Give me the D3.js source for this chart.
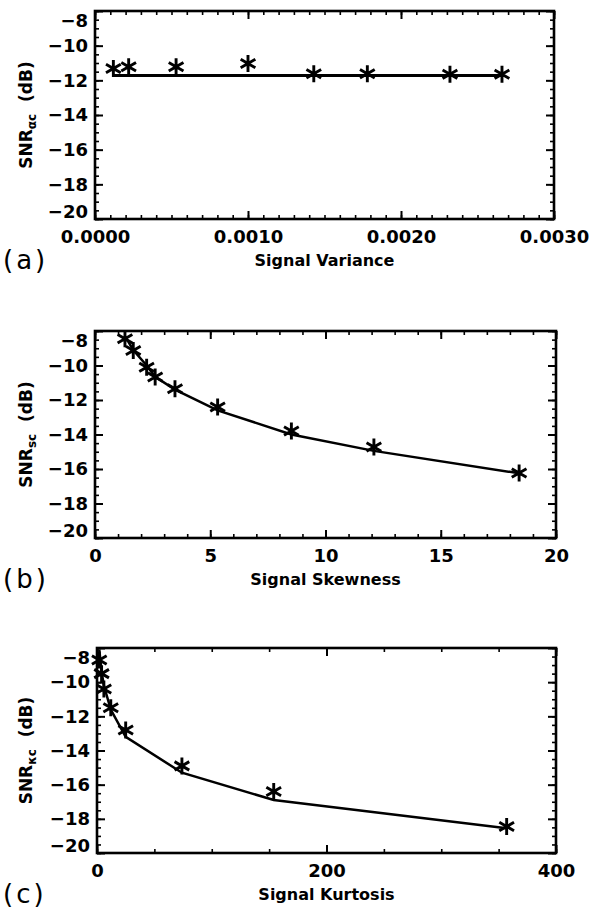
<!DOCTYPE html>
<html>
<head>
<meta charset="utf-8">
<script src="https://cdn.jsdelivr.net/npm/d3@7"></script>
<style>
    body { margin: 0; background: #fff; }
    svg { display: block; }
    text { font-family: "DejaVu Sans", sans-serif; fill: #000; }
</style>
</head>
<body>
<div id="chart-container"></div>
<script>
// values
var yTicks = [-8, -10, -12, -14, -16, -18, -20];

var varX   = [0.00012, 0.00022, 0.00053, 0.00100, 0.00143, 0.00178, 0.00232, 0.00266];
var varSNR = [-11.32, -11.22, -11.22, -11.03, -11.62, -11.62, -11.65, -11.65];
var varFit = [-11.72, -11.72, -11.72, -11.72, -11.72, -11.72, -11.72, -11.72];
var varTicks = [0, 0.001, 0.002, 0.003];
var varLabels = ["0.0000", "0.0010", "0.0020", "0.0030"];

var skewX   = [1.30, 1.66, 2.24, 2.61, 3.47, 5.32, 8.52, 12.1, 18.4];
var skewSNR = [-8.45, -9.13, -10.10, -10.67, -11.35, -12.41, -13.80, -14.73, -16.23];
var skewFit = [-8.3, -9.1, -10.0, -10.65, -11.4, -12.6, -14.0, -14.95, -16.25];
var skewTicks = [0, 5, 10, 15, 20];
var skewLabels = ["0", "5", "10", "15", "20"];

var kurtX   = [2, 4, 6, 12, 25, 74, 154, 357];
var kurtSNR = [-8.7, -9.5, -10.4, -11.5, -12.8, -14.9, -16.4, -18.45];
var kurtFit = [-8.1, -9.4, -10.2, -11.6, -13.2, -15.3, -16.9, -18.55];
var kurtTicks = [0, 200, 400];
var kurtLabels = ["0", "200", "400"];

var W = 594, H = 911;

var svg = d3.select("#chart-container")
    .append("svg")
    .attr("width", W)
    .attr("height", H);

function asterisk(g, x, y) {
    var r = 8.5;
    var path = d3.path();
    for (var k = 0; k < 3; k++) {
        var a = Math.PI / 2 + k * Math.PI / 3;
        path.moveTo(x - r * Math.cos(a), y - r * Math.sin(a));
        path.lineTo(x + r * Math.cos(a), y + r * Math.sin(a));
    }
    g.append("path")
        .attr("d", path.toString())
        .attr("stroke", "#000")
        .attr("stroke-width", 2.9)
        .attr("fill", "none");
}

function panel(p) {
    var x = d3.scaleLinear().domain(p.xDomain).range([p.l, p.r]);
    var y = d3.scaleLinear().domain([-8, -20]).range([p.t, p.b]);
    var g = svg.append("g");

    var xMinor = d3.range(p.xDomain[0], p.xDomain[1] + p.xStep / 2, p.xStep);
    var yMinor = d3.range(-8, -20.25, -0.5);

    // minor ticks on all four sides, pointing inward
    function minor(axis, scale, vals, pos) {
        g.append("g")
            .attr("transform", pos)
            .call(axis(scale).tickValues(vals).tickSizeInner(-4).tickSizeOuter(0).tickFormat(""))
            .call(s => s.select(".domain").remove())
            .selectAll("line").attr("stroke-width", 1.6);
    }
    minor(d3.axisBottom, x, xMinor, `translate(0,${p.b})`);
    minor(d3.axisTop, x, xMinor, `translate(0,${p.t})`);
    minor(d3.axisLeft, y, yMinor, `translate(${p.l},0)`);
    minor(d3.axisRight, y, yMinor, `translate(${p.r},0)`);

    // major ticks + labels
    g.append("g")
        .attr("transform", `translate(0,${p.b})`)
        .call(d3.axisBottom(x).tickValues(p.xTicks).tickSizeInner(-8).tickSizeOuter(0)
            .tickPadding(11).tickFormat((d, i) => p.xLabels[i]));
    g.append("g")
        .attr("transform", `translate(0,${p.t})`)
        .call(d3.axisTop(x).tickValues(p.xTicks).tickSizeInner(-8).tickSizeOuter(0).tickFormat(""));
    var yl = g.append("g")
        .attr("transform", `translate(${p.l},0)`)
        .call(d3.axisLeft(y).tickValues(yTicks).tickSizeInner(-8).tickSizeOuter(0)
            .tickPadding(7).tickFormat(d => "\u2212" + Math.abs(d)));
    g.append("g")
        .attr("transform", `translate(${p.r},0)`)
        .call(d3.axisRight(y).tickValues(yTicks).tickSizeInner(-8).tickSizeOuter(0).tickFormat(""));

    g.selectAll(".domain").remove();
    g.selectAll(".tick line").attr("stroke", "#000");
    g.selectAll(".tick line").filter(function() { return d3.select(this).attr("stroke-width") == null; })
        .attr("stroke-width", 2);
    g.selectAll(".tick text")
        .style("font-family", "DejaVu Sans")
        .style("font-weight", "bold")
        .style("font-size", "18px")
        .attr("fill", "#000");

    // end labels are pulled inside the frame
    yl.selectAll(".tick text").filter(d => d === -8).attr("dy", "0.88em");
    yl.selectAll(".tick text").filter(d => d === -20).attr("dy", "-0.08em");

    // frame
    g.append("rect")
        .attr("x", p.l).attr("y", p.t)
        .attr("width", p.r - p.l).attr("height", p.b - p.t)
        .attr("fill", "none")
        .attr("stroke", "#000")
        .attr("stroke-width", 2.6);

    // fitted curve
    var line = d3.line().x((d, i) => x(p.xs[i])).y(d => y(d));
    g.append("path")
        .datum(p.fit)
        .attr("d", line)
        .attr("fill", "none")
        .attr("stroke", "#000")
        .attr("stroke-width", p.lw);

    // measured points
    p.snr.forEach((v, i) => asterisk(g, x(p.xs[i]), y(v)));

    // x title
    g.append("text")
        .attr("x", (p.l + p.r) / 2)
        .attr("y", p.b + 47)
        .attr("text-anchor", "middle")
        .style("font-weight", "bold")
        .style("font-size", "16px")
        .text(p.xTitle);

    // y title with subscript
    var yt = g.append("text")
        .attr("transform", `translate(32,${(p.t + p.b) / 2}) rotate(-90)`)
        .attr("text-anchor", "middle")
        .style("font-weight", "bold")
        .style("font-size", "17px");
    yt.append("tspan").text("SNR");
    yt.append("tspan").attr("dy", 4).style("font-size", "12px").text(p.sub);
    yt.append("tspan").attr("dy", -4).text("\u00a0 (dB)");

    // panel letter
    g.append("text")
        .attr("x", 3)
        .attr("y", p.b + 50)
        .style("font-size", "26px")
        .style("letter-spacing", "3px")
        .text(p.letter);
}

panel({ l: 95, r: 554, t: 11, b: 219, xDomain: [0, 0.003], xStep: 0.0001,
        xTicks: varTicks, xLabels: varLabels, xs: varX, snr: varSNR, fit: varFit,
        lw: 3.2, xTitle: "Signal Variance", sub: "\u03b1c", letter: "(a)" });
panel({ l: 95, r: 556, t: 331, b: 538, xDomain: [0, 20], xStep: 1,
        xTicks: skewTicks, xLabels: skewLabels, xs: skewX, snr: skewSNR, fit: skewFit,
        lw: 2.5, xTitle: "Signal Skewness", sub: "sc", letter: "(b)" });
panel({ l: 97, r: 556, t: 648, b: 853, xDomain: [0, 400], xStep: 50,
        xTicks: kurtTicks, xLabels: kurtLabels, xs: kurtX, snr: kurtSNR, fit: kurtFit,
        lw: 2.5, xTitle: "Signal Kurtosis", sub: "\u03bac", letter: "(c)" });
</script>
</body>
</html>
